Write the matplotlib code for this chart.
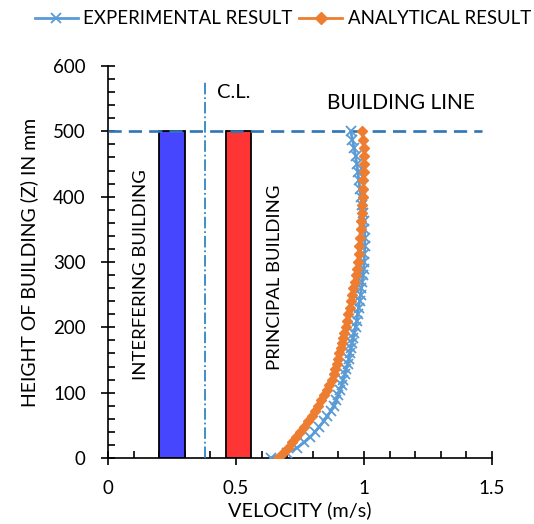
import matplotlib.pyplot as plt
from matplotlib.ticker import MultipleLocator

plt.rcParams['font.family'] = ['Lato', 'DejaVu Sans']

# heights (mm) at which the velocity profiles are sampled
height_mm = [0, 8, 16, 24, 32, 40, 48, 56, 64, 72, 80, 88, 96, 104, 112,
             120, 128, 136, 144, 152, 160, 168, 176, 184, 192, 200,
             210, 220, 230, 240, 250, 260, 270, 280, 290, 300,
             312.5, 325, 337.5, 350, 362.5, 375, 387.5, 400, 412.5, 425,
             437.5, 450, 462.5, 475, 487.5, 500]

experimental = [0.635, 0.700, 0.740, 0.767, 0.790, 0.809, 0.826, 0.842,
                0.857, 0.871, 0.882, 0.892, 0.900, 0.907, 0.913, 0.919,
                0.925, 0.930, 0.936, 0.941, 0.945, 0.949, 0.953, 0.957,
                0.962, 0.967, 0.972, 0.976, 0.979, 0.983, 0.987, 0.990,
                0.993, 0.996, 0.999, 1.001, 1.002, 1.003, 1.003, 1.002,
                1.000, 0.996, 0.992, 0.988, 0.984, 0.980, 0.976, 0.972,
                0.967, 0.961, 0.955, 0.948]

analytical = [0.665, 0.685, 0.703, 0.720, 0.735, 0.750, 0.765, 0.782,
              0.796, 0.809, 0.821, 0.833, 0.844, 0.855, 0.865, 0.874,
              0.881, 0.887, 0.893, 0.899, 0.904, 0.909, 0.914, 0.918,
              0.923, 0.928, 0.933, 0.938, 0.944, 0.949, 0.955, 0.959,
              0.963, 0.967, 0.971, 0.975, 0.979, 0.982, 0.985, 0.988,
              0.990, 0.992, 0.994, 0.996, 0.997, 0.998, 0.999, 1.000,
              1.000, 0.999, 0.997, 0.994]

# buildings: left edge, width, height
building_left = [0.20, 0.46]
building_width = [0.10, 0.10]
building_height = [500, 500]
building_colors = ['#4646FF', '#FF3535']

centre_line_x = 0.38
building_line_z = 500

fig = plt.figure(figsize=(5.34, 5.24), dpi=100)
ax = fig.add_axes([0.2022, 0.126, 0.7191, 0.748])

ax.bar(building_left, building_height, width=building_width, align='edge',
       color=building_colors, edgecolor='black', linewidth=1.3, zorder=2)

ax.plot([0, 1.46], [building_line_z, building_line_z], color='#2E75B6',
        linewidth=1.9, dashes=(5, 2.7), zorder=3)
ax.plot([centre_line_x, centre_line_x], [0, 575], color='#2E86C1',
        linewidth=1.3, linestyle='-.', zorder=3)

ax.plot(experimental, height_mm, color='#5B9BD5', linewidth=2,
        marker='x', markersize=6.5, markeredgewidth=1.3, zorder=4,
        label='EXPERIMENTAL RESULT')
ax.plot(analytical, height_mm, color='#ED7D31', linewidth=2,
        marker='D', markersize=5, zorder=5, label='ANALYTICAL RESULT')

ax.text(0.426, 560, 'C.L.', fontsize=14.5, va='center', ha='left')
ax.text(1.145, 543, 'BUILDING LINE', fontsize=15, va='center', ha='center')
ax.text(0.129, 280, 'INTERFERING BUILDING', fontsize=13.3, rotation=90,
        va='center', ha='center')
ax.text(0.652, 277, 'PRINCIPAL BUILDING', fontsize=13.3, rotation=90,
        va='center', ha='center')

ax.set_xlim(0, 1.5)
ax.set_ylim(0, 600)
ax.xaxis.set_major_locator(MultipleLocator(0.5))
ax.xaxis.set_minor_locator(MultipleLocator(0.1))
ax.yaxis.set_major_locator(MultipleLocator(100))
ax.yaxis.set_minor_locator(MultipleLocator(20))
ax.set_xticks([0, 0.5, 1, 1.5], ['0', '0.5', '1', '1.5'])
ax.tick_params(which='major', direction='inout', length=10, width=1.2,
               labelsize=13.5)
ax.tick_params(axis='x', which='major', pad=11)
ax.tick_params(axis='y', which='major', pad=11)
ax.tick_params(which='minor', direction='in', length=5, width=1.2)
for side in ['top', 'right']:
    ax.spines[side].set_visible(False)
for side in ['left', 'bottom']:
    ax.spines[side].set_linewidth(1.2)

ax.set_xlabel('VELOCITY (m/s)', fontsize=14.3, labelpad=3)
ax.set_ylabel('HEIGHT OF BUILDING (Z) IN mm', fontsize=14, labelpad=11)

fig.legend(loc='upper center', bbox_to_anchor=(0.53, 1.012), ncol=2,
           frameon=False, fontsize=13.4, handlelength=2.3,
           columnspacing=0.35, handletextpad=0.3, markerscale=1.15)

fig.savefig('out.png', dpi=100)
